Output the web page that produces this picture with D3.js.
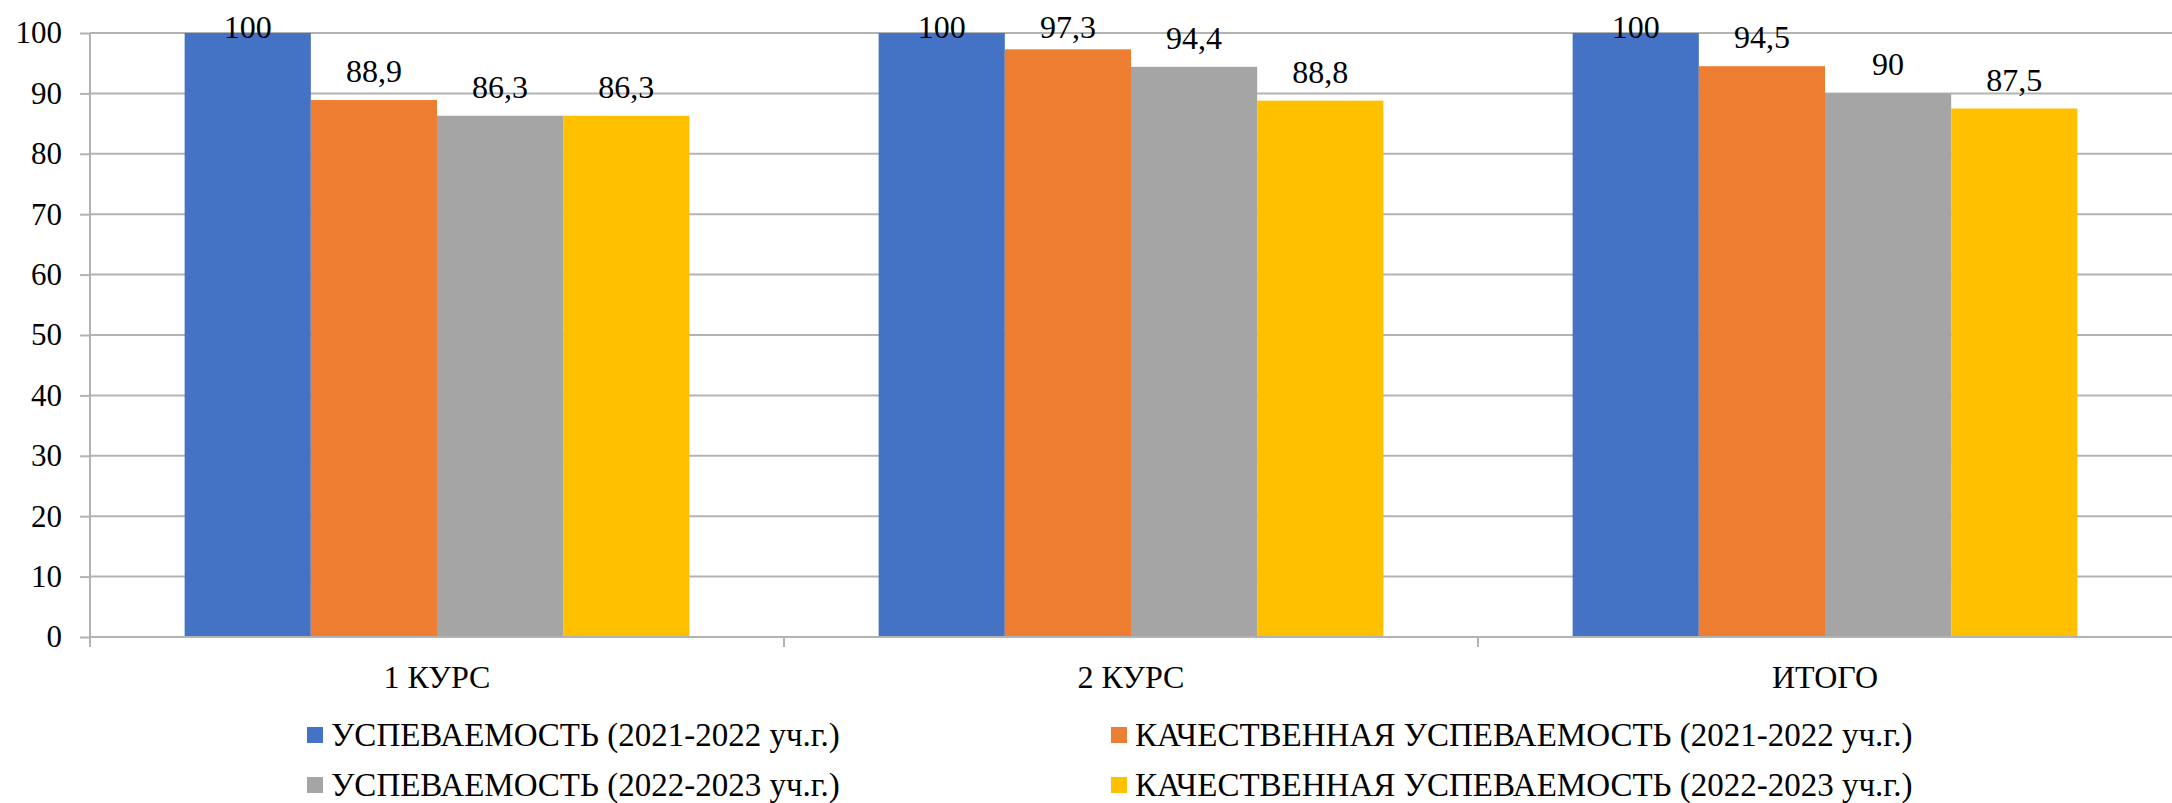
<!DOCTYPE html>
<html>
<head>
<meta charset="utf-8">
<script src="https://cdn.jsdelivr.net/npm/d3@7"></script>
<style>
  body { margin: 0; background: #fff; }
  svg { display: block; }
</style>
</head>
<body>
<svg id="chart" width="2172" height="803"></svg>
<script>
// categories and series
var categories = ['1 КУРС', '2 КУРС', 'ИТОГО'];
var seriesNames = [
  'УСПЕВАЕМОСТЬ (2021-2022 уч.г.)',
  'КАЧЕСТВЕННАЯ УСПЕВАЕМОСТЬ (2021-2022 уч.г.)',
  'УСПЕВАЕМОСТЬ (2022-2023 уч.г.)',
  'КАЧЕСТВЕННАЯ УСПЕВАЕМОСТЬ (2022-2023 уч.г.)'
];
var uspev2122 = [100, 100, 100];
var kach2122 = [88.9, 97.3, 94.5];
var uspev2223 = [86.3, 94.4, 90];
var kach2223 = [86.3, 88.8, 87.5];
var yTicks = [0, 10, 20, 30, 40, 50, 60, 70, 80, 90, 100];
var colors = ['#4472C4', '#ED7D31', '#A5A5A5', '#FFC000'];

var series = [uspev2122, kach2122, uspev2223, kach2223];

var svg = d3.select('#chart');
var plotL = 90, plotR = 2172, plotT = 33, plotB = 637;
var font = 'Liberation Serif';
var gridCol = '#b3b3b3';

var x0 = d3.scaleBand().domain(categories).range([plotL, plotR]).padding(0);
var x1 = d3.scaleBand().domain(d3.range(series.length))
  .range([0, x0.bandwidth()]).paddingInner(0).paddingOuter(0.75);
var y = d3.scaleLinear().domain([0, 100]).range([plotB, plotT]);

var fmt = function(v) { return String(v).replace('.', ','); };

// gridlines + y ticks
var yAxis = d3.axisLeft(y).tickValues(yTicks).tickSize(10).tickPadding(18);
var gy = svg.append('g').attr('transform', 'translate(' + plotL + ',0)').call(yAxis);
gy.select('.domain').remove();
gy.selectAll('.tick line').attr('stroke', gridCol).attr('stroke-width', 2);
gy.selectAll('.tick text').attr('fill', '#000')
  .style('font-family', font).style('font-size', '31px');

svg.append('g').selectAll('line').data(yTicks).join('line')
  .attr('x1', plotL).attr('x2', plotR)
  .attr('y1', function(d) { return y(d); }).attr('y2', function(d) { return y(d); })
  .attr('stroke', gridCol).attr('stroke-width', 2);

// bars
var groups = svg.append('g').selectAll('g').data(categories).join('g')
  .attr('transform', function(d) { return 'translate(' + x0(d) + ',0)'; });

groups.each(function(cat, ci) {
  var g = d3.select(this);
  series.forEach(function(vals, si) {
    var v = vals[ci];
    g.append('rect')
      .attr('x', x1(si)).attr('width', x1.bandwidth())
      .attr('y', y(v)).attr('height', y(0) - y(v))
      .attr('fill', colors[si]);
    g.append('text')
      .attr('x', x1(si) + x1.bandwidth() / 2)
      .attr('y', Math.max(y(v) - 18, 38))
      .attr('text-anchor', 'middle')
      .style('font-family', font).style('font-size', '32px')
      .text(fmt(v));
  });
});

// axes lines
svg.append('line').attr('x1', plotL).attr('x2', plotL).attr('y1', plotT).attr('y2', plotB + 10)
  .attr('stroke', gridCol).attr('stroke-width', 2);
svg.append('line').attr('x1', plotL).attr('x2', plotR).attr('y1', plotB).attr('y2', plotB)
  .attr('stroke', gridCol).attr('stroke-width', 2);
svg.append('g').selectAll('line').data(categories.slice(1)).join('line')
  .attr('x1', function(d) { return x0(d); }).attr('x2', function(d) { return x0(d); })
  .attr('y1', plotB).attr('y2', plotB + 10)
  .attr('stroke', gridCol).attr('stroke-width', 2);

// category labels
svg.append('g').selectAll('text').data(categories).join('text')
  .attr('x', function(d) { return x0(d) + x0.bandwidth() / 2; })
  .attr('y', 688)
  .attr('text-anchor', 'middle')
  .style('font-family', font).style('font-size', '32px')
  .text(function(d) { return d; });

// legend
var legX = [307, 1111], legY = [735, 785];
var leg = svg.append('g').selectAll('g').data(seriesNames).join('g')
  .attr('transform', function(d, i) {
    return 'translate(' + legX[i % 2] + ',' + legY[Math.floor(i / 2)] + ')';
  });
leg.append('rect').attr('x', 0).attr('y', -8).attr('width', 16).attr('height', 16)
  .attr('fill', function(d, i) { return colors[i]; });
leg.append('text').attr('x', 24).attr('y', 11)
  .style('font-family', font).style('font-size', '33px')
  .text(function(d) { return d; });
</script>
</body>
</html>
